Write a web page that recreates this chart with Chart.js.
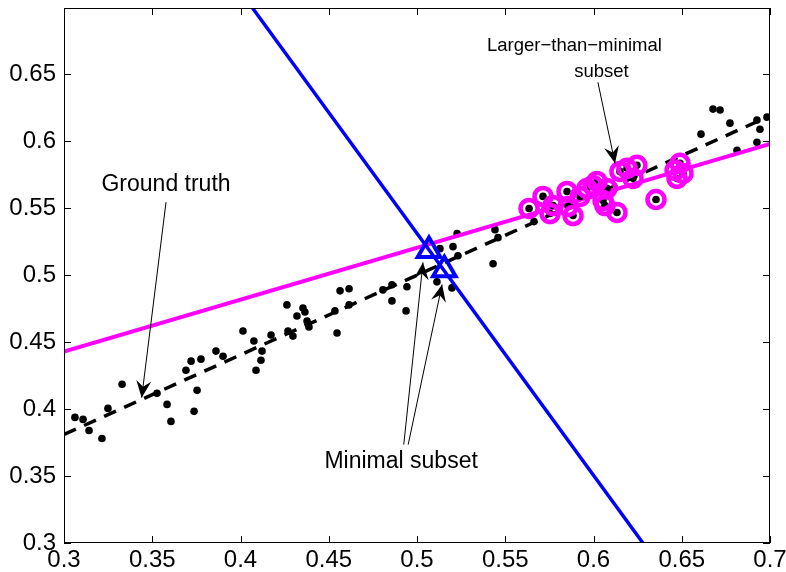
<!DOCTYPE html>
<html>
<head>
<meta charset="utf-8">
<style>
	html, body { margin: 0; padding: 0; background: #fff; }
	#wrap { width: 786px; height: 572px; }
</style>
</head>
<body>
<div id="wrap">
	<canvas id="fitChart" width="786" height="572"></canvas>
</div>

<script src="https://cdn.jsdelivr.net/npm/chart.js@4.4.1/dist/chart.umd.min.js"></script>

<script>
	// tick labels
	var xTicks = [0.3, 0.35, 0.4, 0.45, 0.5, 0.55, 0.6, 0.65, 0.7]
	var yTicks = [0.3, 0.35, 0.4, 0.45, 0.5, 0.55, 0.6, 0.65]

	// all the black points (outside the larger subset)
	var dotX = [0.3062, 0.3108, 0.3142, 0.3215, 0.3249, 0.3329, 0.3527, 0.3584, 0.3606, 0.3737,
		0.3754, 0.3691, 0.3720, 0.3776, 0.3861, 0.3901, 0.4014, 0.4076, 0.4122, 0.4116,
		0.4088, 0.4173, 0.4263, 0.4320, 0.4354, 0.4365, 0.4377, 0.4388, 0.4269, 0.4297,
		0.4535, 0.4547, 0.4564, 0.4615, 0.4615, 0.4807, 0.4858, 0.4858, 0.4943, 0.4938,
		0.5113, 0.5198, 0.5227, 0.5204, 0.5130, 0.5232, 0.5431, 0.5442, 0.5459, 0.5663,
		0.6677, 0.6717, 0.6773, 0.6609, 0.6926, 0.6983, 0.6943, 0.6926, 0.6813]
	var dotY = [0.3938, 0.3923, 0.3840, 0.3780, 0.4005, 0.4185, 0.4118, 0.4035, 0.3908, 0.3983,
		0.4140, 0.4290, 0.4358, 0.4373, 0.4433, 0.4395, 0.4583, 0.4508, 0.4433, 0.4365,
		0.4290, 0.4553, 0.4778, 0.4695, 0.4755, 0.4725, 0.4658, 0.4613, 0.4583, 0.4545,
		0.4733, 0.4568, 0.4883, 0.4898, 0.4778, 0.4890, 0.4928, 0.4808, 0.4913, 0.4733,
		0.4950, 0.4905, 0.5310, 0.5213, 0.5198, 0.5145, 0.5085, 0.5340, 0.5280, 0.5400,
		0.6240, 0.6233, 0.6135, 0.6053, 0.6158, 0.6180, 0.6090, 0.5993, 0.5933]

	// larger-than-minimal subset (circled)
	var subsetX = [0.5635, 0.5714, 0.5754, 0.5771, 0.5850, 0.5856, 0.5884, 0.5924, 0.5963, 0.5997,
		0.6020, 0.6054, 0.6076, 0.6133, 0.6150, 0.6190, 0.6224, 0.6246, 0.6354, 0.6462,
		0.6490, 0.6473, 0.6507, 0.6065]
	var subsetY = [0.5498, 0.5588, 0.5460, 0.5520, 0.5625, 0.5513, 0.5445, 0.5588, 0.5648, 0.5670,
		0.5700, 0.5558, 0.5648, 0.5468, 0.5775, 0.5798, 0.5723, 0.5820, 0.5565, 0.5783,
		0.5835, 0.5723, 0.5760, 0.5520]

	// minimal subset (triangles)
	var minimalX = [0.5068, 0.5155]
	var minimalY = [0.5185, 0.5040]

	// fitted lines, end points
	var truthX = [0.3, 0.7]
	var truthY = [0.381, 0.619]
	var largeFitX = [0.3, 0.7]
	var largeFitY = [0.443, 0.598]
	var minFitX = [0.4065, 0.628]
	var minFitY = [0.7, 0.3]

	function pts(xs, ys) {
		return xs.map(function(x, i) { return { x: x, y: ys[i] } })
	}

	var FONT = "'Liberation Sans', Arial, Helvetica, sans-serif"

	// text + arrows, in data units
	var notes = [
		{ text: ["Ground truth"], size: 23, x: 0.3578, y: 0.5678,
			arrows: [[0.3578, 0.5545, 0.3440, 0.4085]] },
		{ text: ["Larger\u2212than\u2212minimal", "subset"], size: 18.5, x: 0.6045, y: 0.6712,
			arrows: [[0.6025, 0.6440, 0.6122, 0.5835]] },
		{ text: ["Minimal subset"], size: 23, x: 0.4910, y: 0.3610,
			arrows: [[0.4925, 0.3735, 0.5034, 0.5095], [0.4950, 0.3735, 0.5142, 0.4930]] }
	]

	function drawArrow(ctx, x1, y1, x2, y2) {
		ctx.beginPath()
		ctx.moveTo(x1, y1)
		ctx.lineTo(x2, y2)
		ctx.lineWidth = 1
		ctx.strokeStyle = "#000"
		ctx.stroke()
		var a = Math.atan2(y2 - y1, x2 - x1)
		var len = 17, half = 7.5, back = 11
		ctx.save()
		ctx.translate(x2, y2)
		ctx.rotate(a)
		ctx.beginPath()
		ctx.moveTo(0, 0)
		ctx.lineTo(-len, -half)
		ctx.lineTo(-back, 0)
		ctx.lineTo(-len, half)
		ctx.closePath()
		ctx.fillStyle = "#000"
		ctx.fill()
		ctx.restore()
	}

	var boxPlugin = {
		id: "box",
		afterDraw: function(chart) {
			var ctx = chart.ctx
			var a = chart.chartArea
			var xs = chart.scales.x, ys = chart.scales.y
			ctx.save()
			ctx.strokeStyle = "#000"
			ctx.lineWidth = 1
			ctx.strokeRect(a.left + 0.5, a.top + 0.5, a.right - a.left - 1, a.bottom - a.top - 1)
			var t = 7
			ctx.beginPath()
			xTicks.forEach(function(v) {
				var px = Math.round(xs.getPixelForValue(v)) + 0.5
				ctx.moveTo(px, a.bottom); ctx.lineTo(px, a.bottom - t)
				ctx.moveTo(px, a.top); ctx.lineTo(px, a.top + t)
			})
			yTicks.forEach(function(v) {
				var py = Math.round(ys.getPixelForValue(v)) + 0.5
				ctx.moveTo(a.left, py); ctx.lineTo(a.left + t, py)
				ctx.moveTo(a.right, py); ctx.lineTo(a.right - t, py)
			})
			ctx.stroke()

			// annotations
			ctx.fillStyle = "#000"
			ctx.textAlign = "center"
			ctx.textBaseline = "middle"
			notes.forEach(function(n) {
				ctx.font = n.size + "px " + FONT
				var cx = xs.getPixelForValue(n.x), cy = ys.getPixelForValue(n.y)
				n.text.forEach(function(line, i) {
					var dx = (n.text.length > 1 && i == 0) ? -27 : 0
					ctx.fillText(line, cx + dx, cy + i * 26)
				})
				n.arrows.forEach(function(r) {
					drawArrow(ctx, xs.getPixelForValue(r[0]), ys.getPixelForValue(r[1]),
						xs.getPixelForValue(r[2]), ys.getPixelForValue(r[3]))
				})
			})
			ctx.restore()
		}
	}

	function tickText(v) { return String(+v.toFixed(2)) }

	const ctx = document.getElementById("fitChart")
	const fitChart = new Chart(ctx, {
		type: "scatter",
		data: {
			datasets: [
				{ label: "minimal", data: pts(minimalX, minimalY), order: 1,
					pointStyle: "triangle", pointRadius: 13, borderColor: "#0000ff",
					backgroundColor: "rgba(0,0,0,0)", borderWidth: 4 },
				{ label: "minimal fit", data: pts(minFitX, minFitY), order: 2, showLine: true,
					borderColor: "#0000ff", borderWidth: 3.5, pointRadius: 0 },
				{ label: "subset", data: pts(subsetX, subsetY), order: 3,
					pointStyle: "circle", pointRadius: 8.5, borderColor: "#ff00ff",
					backgroundColor: "rgba(0,0,0,0)", borderWidth: 4.5 },
				{ label: "subset dots", data: pts(subsetX, subsetY), order: 4,
					pointRadius: 3.8, borderWidth: 0, backgroundColor: "#000" },
				{ label: "larger fit", data: pts(largeFitX, largeFitY), order: 5, showLine: true,
					borderColor: "#ff00ff", borderWidth: 4, pointRadius: 0 },
				{ label: "points", data: pts(dotX, dotY), order: 6,
					pointRadius: 3.8, borderWidth: 0, backgroundColor: "#000" },
				{ label: "ground truth", data: pts(truthX, truthY), order: 7, showLine: true,
					borderColor: "#000", borderWidth: 3.5, borderDash: [13, 9], pointRadius: 0 }
			]
		},
		options: {
			responsive: false,
			animation: false,
			// no auto padding: the plot box sits 8px from the top like the original
			layout: { autoPadding: false, padding: { top: 8, right: 16, left: 0, bottom: 0 } },
			plugins: { legend: { display: false }, tooltip: { enabled: false } },
			scales: {
				x: {
					type: "linear", min: 0.3, max: 0.7,
					grid: { display: false, drawTicks: false },
					border: { display: false },
					afterBuildTicks: function(s) { s.ticks = xTicks.map(function(v) { return { value: v } }) },
					afterFit: function(s) { s.height = 29; s.paddingLeft = 0; s.paddingRight = 0 },
					ticks: { color: "#000", padding: 3, maxRotation: 0, autoSkip: false,
						font: { family: FONT, size: 24 },
						callback: tickText }
				},
				y: {
					type: "linear", min: 0.3, max: 0.6995,
					grid: { display: false, drawTicks: false },
					border: { display: false },
					afterBuildTicks: function(s) { s.ticks = yTicks.map(function(v) { return { value: v } }) },
					afterFit: function(s) { s.width = 64; s.paddingTop = 0; s.paddingBottom = 0 },
					ticks: { color: "#000", padding: 8, autoSkip: false,
						font: { family: FONT, size: 24 },
						callback: tickText }
				}
			}
		},
		plugins: [boxPlugin]
	})
</script>
</body>
</html>
